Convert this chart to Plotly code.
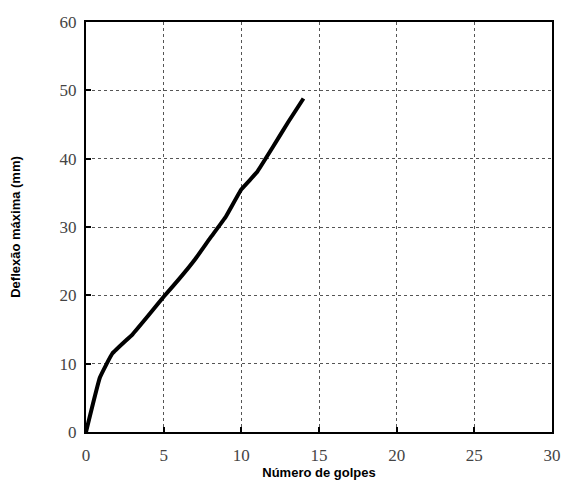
import plotly.graph_objects as go

golpes = [0, 0.9, 1.7, 3, 4, 5, 6, 7, 8, 9, 10, 11, 12, 13, 14]
deflexao = [0, 8, 11.5, 14.3, 17.0, 19.8, 22.4, 25.2, 28.4, 31.5, 35.5, 38.0, 41.6, 45.3, 48.8]

x_ticks = [0, 5, 10, 15, 20, 25, 30]
y_ticks = [0, 10, 20, 30, 40, 50, 60]

fig = go.Figure()
fig.add_trace(go.Scatter(x=golpes, y=deflexao, mode="lines",
                         line=dict(color="black", width=4, shape="spline", smoothing=0.3),
                         showlegend=False))

axis_common = dict(
    showline=True, linecolor="black", linewidth=2, mirror=True,
    ticks="inside", ticklen=5, tickwidth=2, tickcolor="black",
    showgrid=True, gridcolor="#555555", griddash="dot", gridwidth=1,
    zeroline=False, automargin=False,
    tickfont=dict(family="Liberation Serif", size=17, color="#444444"),
)

fig.update_xaxes(range=[0, 30], tickvals=x_ticks, ticklabelstandoff=7,
                 title=dict(text="<b>Número de golpes</b>",
                            font=dict(family="Liberation Sans", size=13, color="black"),
                            standoff=0),
                 **axis_common)
fig.update_yaxes(range=[0, 60], tickvals=y_ticks, ticklabelstandoff=4,
                 title=dict(text="<b>Deflexão máxima (mm)</b>",
                            font=dict(family="Liberation Sans", size=13, color="black"),
                            standoff=36),
                 **axis_common)

fig.update_layout(
    width=565, height=495,
    margin=dict(l=86, r=13, t=22, b=63, autoexpand=False),
    plot_bgcolor="white", paper_bgcolor="white",
)

fig.write_html("out.html", config={"displayModeBar": False},
               post_script="document.body.style.margin='0';document.body.style.overflow='hidden';")
